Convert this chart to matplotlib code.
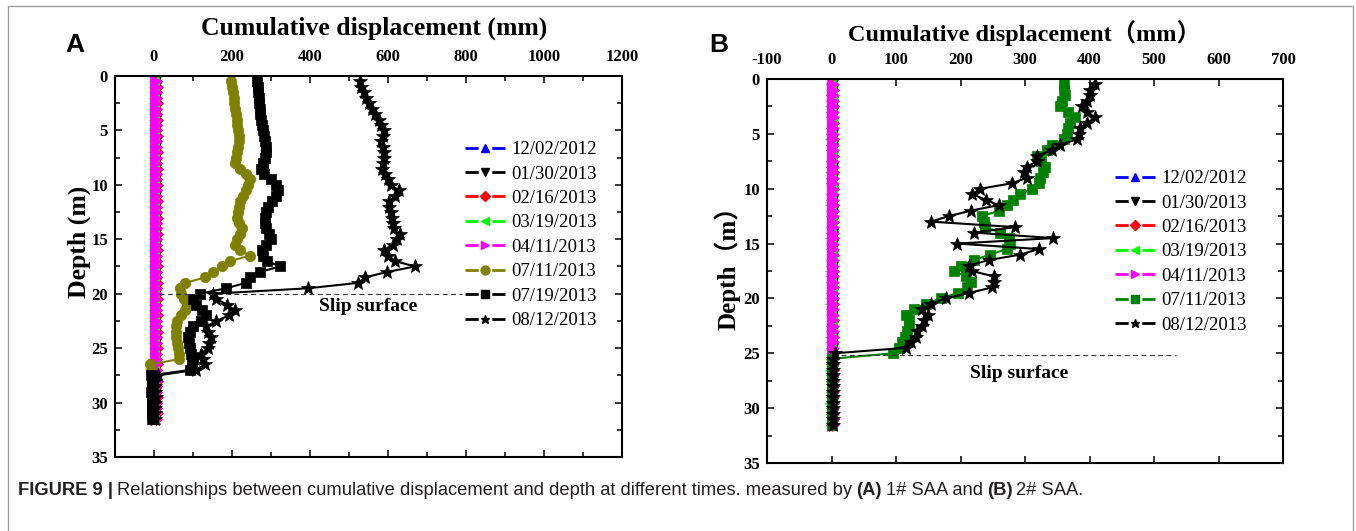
import matplotlib.pyplot as plt
from matplotlib.lines import Line2D
from matplotlib.patches import Rectangle

plt.rcParams['font.family'] = ['Liberation Serif', 'Noto Sans CJK SC']
plt.rcParams['lines.scale_dashes'] = False
plt.rcParams['axes.unicode_minus'] = False

# depth of every SAA node (m)
depth = [0.5, 1.0, 1.5, 2.0, 2.5, 3.0, 3.5, 4.0, 4.5, 5.0,
         5.5, 6.0, 6.5, 7.0, 7.5, 8.0, 8.5, 9.0, 9.5, 10.0,
         10.5, 11.0, 11.5, 12.0, 12.5, 13.0, 13.5, 14.0, 14.5, 15.0,
         15.5, 16.0, 16.5, 17.0, 17.5, 18.0, 18.5, 19.0, 19.5, 20.0,
         20.5, 21.0, 21.5, 22.0, 22.5, 23.0, 23.5, 24.0, 24.5, 25.0,
         25.5, 26.0, 26.5, 27.0, 27.5, 28.0, 28.5, 29.0, 29.5, 30.0,
         30.5, 31.0, 31.5]

# ---- panel A : 1# SAA (mm) ----
dates_a = ['12/02/2012', '01/30/2013', '02/16/2013', '03/19/2013',
           '04/11/2013', '07/11/2013', '07/19/2013', '08/12/2013']
a_1202 = [2, 2, 3, 2, 2, 2, 3, 2, 2, 2, 3, 2, 2, 2, 2, 3, 2, 2, 2, 2, 3,
          2, 2, 2, 2, 3, 2, 2, 2, 2, 3, 2, 2, 2, 2, 3, 2, 2, 2, 2, 3, 2,
          2, 2, 2, 3, 2, 2, 2, 2, 3, 2, 2, 2, 2, 3, 2, 2, 2, 2, 3, 2, 2]
a_0130 = [4, 4, 5, 4, 3, 4, 4, 5, 4, 4, 3, 4, 4, 5, 4, 4, 4, 3, 4, 4, 5,
          4, 4, 4, 3, 4, 4, 5, 4, 4, 4, 3, 4, 4, 5, 4, 4, 4, 3, 4, 4, 5,
          4, 4, 4, 3, 4, 4, 5, 4, 4, 4, 3, 4, 4, 5, 4, 4, 4, 3, 4, 4, 4]
a_0216 = [6, 7, 6, 6, 7, 6, 6, 7, 6, 6, 7, 6, 6, 7, 6, 6, 7, 6, 6, 7, 6,
          6, 7, 6, 6, 7, 6, 6, 7, 6, 6, 7, 6, 6, 7, 6, 6, 7, 6, 6, 7, 6,
          6, 7, 6, 6, 7, 6, 6, 7, 6, 6, 7, 6, 6, 7, 6, 6, 7, 6, 6, 7, 6]
a_0319 = [0, 0, -1, 0, 0, 1, 0, 0, -1, 0, 0, 1, 0, 0, -1, 0, 0, 1, 0, 0, -1,
          0, 0, 1, 0, 0, -1, 0, 0, 1, 0, 0, -1, 0, 0, 1, 0, 0, -1, 0, 0, 1,
          0, 0, -1, 0, 0, 1, 0, 0, -1, 0, 0, 1, 0, 0, -1, 0, 0, 1, 0, 0, 0]
a_0411 = [4, 4, 4, 5, 4, 4, 4, 4, 5, 4, 4, 4, 4, 5, 4, 4, 4, 4, 5, 4, 4,
          4, 4, 5, 4, 4, 4, 4, 5, 4, 4, 4, 4, 5, 4, 4, 4, 4, 5, 4, 4, 4,
          4, 5, 4, 4, 4, 4, 5, 4, 4, 4, 4, 5, 4, 4, 4, 4, 5, 4, 4, 4, 4]
a_0711 = [197, 199, 202, 204, 206, 208, 210, 212, 214, 215,
          217, 217, 216, 214, 211, 208, 220, 235, 245, 242,
          236, 228, 221, 217, 215, 214, 217, 226, 220, 212,
          208, 220, 245, 196, 175, 150, 132, 80, 66, 70,
          76, 85, 80, 68, 60, 57, 56, 57, 58, 62,
          65, 65, -10, -8, -6, -5, -5, -4, -5, -4,
          -5, -4, -5]
a_0719 = [264, 266, 267, 268, 270, 271, 273, 275, 277, 279,
          282, 284, 286, 288, 285, 280, 275, 282, 301, 312,
          317, 312, 302, 293, 287, 284, 285, 286, 295, 300,
          288, 276, 280, 290, 323, 272, 245, 236, 185, 117,
          100, 108, 122, 133, 121, 100, 92, 88, 90, 93,
          96, 100, 97, 92, -8, -6, -5, -7, -6, -5,
          -6, -5, -6]
a_0812 = [527, 532, 538, 544, 550, 558, 567, 576, 583, 589,
          586, 583, 587, 590, 589, 587, 584, 592, 600, 608,
          627, 618, 603, 603, 608, 610, 613, 616, 631, 622,
          612, 590, 600, 618, 669, 598, 541, 524, 395, 151,
          160, 188, 207, 192, 160, 134, 138, 146, 142, 138,
          121, 126, 130, 108, 9, 3, 2, 3, 4, 2,
          3, 2, 3]
colors_a = ['#0000ff', 'black', '#ff0000', '#00ff00', '#ff00ff', '#808000', 'black', 'black']
markers_a = ['^', 'v', 'D', '<', '>', 'o', 's', '*']
slip_a_depth = 20.0
slip_a_x = [13, 790]

# ---- panel B : 2# SAA (mm) ----
dates_b = ['12/02/2012', '01/30/2013', '02/16/2013', '03/19/2013',
           '04/11/2013', '07/11/2013', '08/12/2013']
b_1202 = [1, 1, 2, 1, 1, 1, 2, 1, 1, 1, 2, 1, 1, 1, 2, 1, 1, 1, 2, 1, 1,
          1, 2, 1, 1, 1, 2, 1, 1, 1, 2, 1, 1, 1, 2, 1, 1, 1, 2, 1, 1, 1,
          2, 1, 1, 1, 2, 1, 1, 1, 2, 1, 1, 1, 2, 1, 1, 1, 2, 1, 1, 1, 1]
b_0130 = [2, 3, 2, 2, 3, 2, 2, 3, 2, 2, 3, 2, 2, 3, 2, 2, 3, 2, 2, 3, 2,
          2, 3, 2, 2, 3, 2, 2, 3, 2, 2, 3, 2, 2, 3, 2, 2, 3, 2, 2, 3, 2,
          2, 3, 2, 2, 3, 2, 2, 3, 2, 2, 3, 2, 2, 3, 2, 2, 3, 2, 2, 3, 2]
b_0216 = [1, 2, 1, 1, 2, 1, 1, 2, 1, 1, 2, 1, 1, 2, 1, 1, 2, 1, 1, 2, 1,
          1, 2, 1, 1, 2, 1, 1, 2, 1, 1, 2, 1, 1, 2, 1, 1, 2, 1, 1, 2, 1,
          1, 2, 1, 1, 2, 1, 1, 2, 1, 1, 2, 1, 1, 2, 1, 1, 2, 1, 1, 2, 1]
b_0319 = [-1, -1, 0, -1, -2, -1, -1, 0, -1, -1, -2, -1, -1, 0, -1, -1, -2,
          -1, -1, 0, -1, -1, -2, -1, -1, 0, -1, -1, -2, -1, -1, 0, -1, -1,
          -2, -1, -1, 0, -1, -1, -2, -1, -1, 0, -1, -1, -2, -1, -1, 0, -1,
          -1, -2, -1, -1, 0, -1, -1, -2, -1, -1, 0, -1]
b_0411 = [2, 2, 3, 2, 2, 2, 3, 2, 2, 2, 3, 2, 2, 2, 3, 2, 2, 2, 3, 2, 2,
          2, 3, 2, 2, 2, 3, 2, 2, 2, 3, 2, 2, 2, 3, 2, 2, 2, 3, 2, 2, 2,
          3, 2, 2, 2, 3, 2, 2, 2, 3, 2, 2, 2, 3, 2, 2, 2, 3, 2, 2, 2, 2]
b_0711 = [360, 361, 362, 357, 354, 367, 378, 370, 366, 365,
          360, 342, 334, 318, 325, 331, 328, 324, 322, 311,
          293, 282, 272, 260, 234, 236, 238, 262, 275, 277,
          272, 246, 221, 200, 190, 208, 216, 210, 196, 170,
          146, 128, 115, 120, 120, 117, 114, 110, 105, 95,
          1, 0, 1, 0, 1, 0, 1, 0, 1, 0,
          1, 0, 1]
b_0812 = [408, 401, 401, 396, 388, 396, 409, 396, 385, 383,
          380, 355, 342, 318, 318, 303, 298, 303, 280, 231,
          218, 239, 259, 216, 182, 154, 285, 221, 344, 195,
          321, 293, 244, 213, 218, 252, 252, 249, 213, 177,
          154, 140, 149, 144, 141, 133, 131, 123, 115, 5,
          3, 2, 3, 2, 3, 2, 3, 2, 3, 2,
          3, 2, 3]
colors_b = ['#0000ff', 'black', '#ff0000', '#00ff00', '#ff00ff', '#008000', 'black']
markers_b = ['^', 'v', 'D', '<', '>', 's', '*']
slip_b_depth = 25.2
slip_b_x = [15, 534]

series_a = [a_1202, a_0130, a_0216, a_0319, a_0411, a_0711, a_0719, a_0812]
series_b = [b_1202, b_0130, b_0216, b_0319, b_0411, b_0711, b_0812]

msize = {'^': 7, 'v': 7, 'D': 6, '<': 7, '>': 9, 'o': 7.5, 's': 6.5, '*': 10}

W, H = 1356, 531
fig = plt.figure(figsize=(W / 100, H / 100), dpi=100)
ax_a = fig.add_axes([115 / W, 1 - 457 / H, 507 / W, 381 / H])
ax_b = fig.add_axes([767 / W, 1 - 463 / H, 516 / W, 384 / H])


def draw(ax, series, colors, markers):
    for vals, c, m in zip(series, colors, markers):
        ax.plot(vals, depth, color=c, marker=m, markersize=msize[m], lw=1.5,
                markeredgewidth=0.5, markeredgecolor=c)


def style(ax, xmax, xmajor):
    ax.set_ylim(35, 0)
    ax.set_xlim(-100, xmax)
    ax.set_xticks(range(-100 if xmajor == 100 else 0, xmax + 1, xmajor))
    ax.set_xticks(range(-100, xmax + 1, 100), minor=True)
    ax.set_yticks(range(0, 36, 5))
    ax.set_yticks([2.5 + 5 * k for k in range(7)], minor=True)
    ax.xaxis.tick_top()
    ax.tick_params(which='both', direction='in', top=True, bottom=True,
                   left=True, right=True, labeltop=True, labelbottom=False,
                   width=1.1)
    ax.tick_params(which='major', length=5)
    ax.tick_params(which='minor', length=3.5)
    ax.tick_params(axis='x', pad=8)
    ax.tick_params(axis='y', pad=5)
    for lab in ax.get_xticklabels() + ax.get_yticklabels():
        lab.set_fontweight('bold')
        lab.set_fontsize(12)
    for sp in ax.spines.values():
        sp.set_linewidth(1.5)


draw(ax_a, series_a, colors_a, markers_a)
ax_a.plot(slip_a_x, [slip_a_depth, slip_a_depth], color='#333333', lw=0.8,
          linestyle=(0, (3.5, 2.5)))
ax_a.text(548, 21.2, 'Slip surface', ha='center', va='center',
          fontsize=14, fontweight='bold')
style(ax_a, 1200, 200)

draw(ax_b, series_b, colors_b, markers_b)
ax_b.plot(slip_b_x, [slip_b_depth, slip_b_depth], color='#333333', lw=0.8,
          linestyle=(0, (3.5, 2.5)))
ax_b.text(291, 26.8, 'Slip surface', ha='center', va='center',
          fontsize=14, fontweight='bold')
style(ax_b, 700, 100)


def handles(colors, markers):
    out = []
    for c, m in zip(colors, markers):
        out.append(Line2D([0], [0], color=c, marker=m, lw=2,
                          markersize=min(msize[m], 7.5) * 0.85,
                          markeredgecolor=c, linestyle=(0, (9.5, 9.8))))
    return out


leg_kw = dict(loc='upper left', frameon=False, fontsize=13.5,
              handlelength=2.13, handletextpad=0.32, labelspacing=0.39,
              borderpad=0, borderaxespad=0, bbox_transform=fig.transFigure)
fig.legend(handles(colors_a, markers_a), dates_a,
           bbox_to_anchor=(465 / W, 1 - 141 / H), **leg_kw)
fig.legend(handles(colors_b, markers_b), dates_b,
           bbox_to_anchor=(1115 / W, 1 - 170 / H), **leg_kw)

# axis titles
fig.text(374 / W, 1 - 28 / H, 'Cumulative displacement (mm)', ha='center',
         va='center', fontsize=18.5, fontweight='bold')
fig.text(1024 / W, 1 - 33 / H, 'Cumulative displacement（mm）', ha='center',
         va='center', fontsize=17.5, fontweight='bold')
fig.text(79 / W, 1 - 242 / H, 'Depth (m)', ha='center', va='center',
         rotation=90, fontsize=18.5, fontweight='bold')
fig.text(727 / W, 1 - 262 / H, 'Depth（m）', ha='center', va='center',
         rotation=90, fontsize=18, fontweight='bold')

# panel letters
fig.text(65 / W, 1 - 52 / H, 'A', fontsize=19, fontweight='bold',
         family='Liberation Sans', va='baseline')
fig.text(709 / W, 1 - 52 / H, 'B', fontsize=19, fontweight='bold',
         family='Liberation Sans', va='baseline')

# outer frame
fig.add_artist(Rectangle((8 / W, -0.1), 1345 / W, 1.1 - 6 / H, fill=False,
                         edgecolor='#9a9a9a', lw=0.9,
                         transform=fig.transFigure))

# caption, pieced together so the bold parts stay bold
cap_font = dict(family=['Liberation Sans Narrow', 'Liberation Sans'],
                fontsize=13.2, color='#231f20')
pieces = [('Relationships between cumulative displacement and depth at '
           'different times. measured by', 'normal'),
          ('(A)', 'bold'), ('1# SAA and', 'normal'),
          ('(B)', 'bold'), ('2# SAA.', 'normal')]
prev = fig.text(18 / W, 1 - 499 / H, 'FIGURE 9 |', fontweight='bold',
                va='bottom', **cap_font)
for txt, wt in pieces:
    prev = fig.add_artist(plt.Annotation(txt, xy=(1, 0), xycoords=prev,
                                         xytext=(4, 0),
                                         textcoords='offset pixels',
                                         fontweight=wt, va='bottom',
                                         annotation_clip=False, **cap_font))

fig.savefig('out.png', dpi=100)
